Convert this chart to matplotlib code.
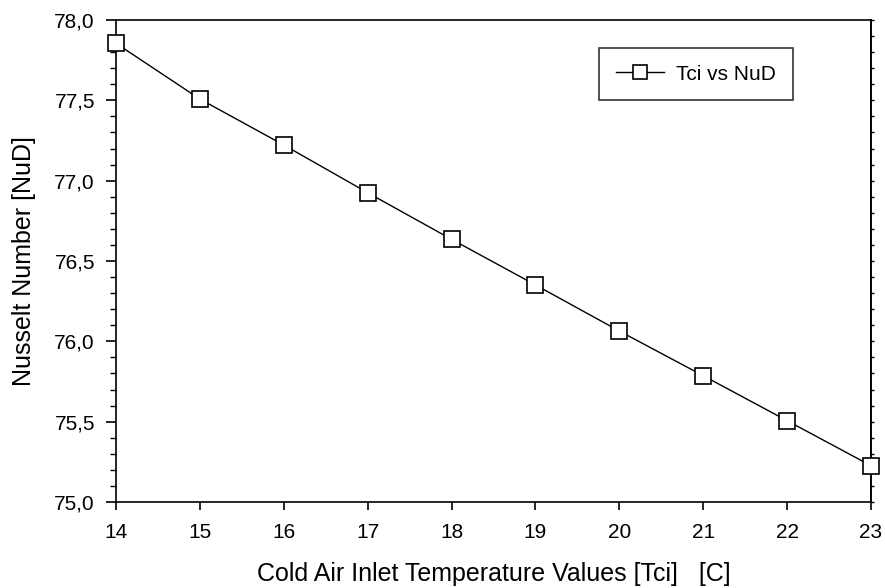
import matplotlib
matplotlib.use("Agg")
import matplotlib.pyplot as plt
from matplotlib.ticker import MultipleLocator, FuncFormatter, NullLocator

plt.rcParams['font.family'] = ['Liberation Sans', 'DejaVu Sans']

tci = [14, 15, 16, 17, 18, 19, 20, 21, 22, 23]
nud = [77.855, 77.508, 77.222, 76.925, 76.635, 76.351, 76.064, 75.786, 75.506, 75.226]
series_label = "Tci vs NuD"
xlabel = "Cold Air Inlet Temperature Values [Tci]   [C]"
ylabel = "Nusselt Number [NuD]"

fig = plt.figure(figsize=(8.85, 5.88), dpi=100)
ax = fig.add_axes([116/885, 1-502/588, (871-116)/885, (502-20)/588])

ax.plot(tci, nud, color='black', linewidth=1.0, marker='s', markersize=11.5,
        markerfacecolor='white', markeredgecolor='black', markeredgewidth=1.2,
        label=series_label, clip_on=False, zorder=5)

ax.set_xlim(14, 23)
ax.set_ylim(75.0, 78.0)
ax.xaxis.set_major_locator(MultipleLocator(1))
ax.yaxis.set_major_locator(MultipleLocator(0.5))
ax.yaxis.set_minor_locator(MultipleLocator(0.1))
ax.yaxis.set_major_formatter(FuncFormatter(lambda v, p: f"{v:.1f}".replace('.', ',')))

ax.tick_params(axis='x', which='major', direction='out', length=6, width=1.2,
               labelsize=15, pad=9)
ax.tick_params(axis='y', which='major', direction='out', length=7.2, width=1.2,
               labelsize=15, pad=8)
ax.tick_params(axis='y', which='minor', direction='out', length=4.3, width=1.0)
for s in ax.spines.values():
    s.set_linewidth(1.2)

# right side short minor ticks
sec = ax.secondary_yaxis('right')
sec.yaxis.set_major_locator(NullLocator())
sec.yaxis.set_minor_locator(MultipleLocator(0.1))
sec.tick_params(axis='y', which='minor', direction='out', length=1.8, width=1.0)
sec.spines['right'].set_linewidth(1.2)

ax.set_xlabel(xlabel, fontsize=18)
ax.set_ylabel(ylabel, fontsize=18)
ax.xaxis.set_label_coords(0.5, -0.15)
ax.xaxis.label.set_verticalalignment('center')
ax.yaxis.set_label_coords(-0.122, 0.5)
ax.yaxis.label.set_verticalalignment('center')

leg = ax.legend(loc='upper right', bbox_to_anchor=(793/885, 1 - 48/588),
                bbox_transform=fig.transFigure, fontsize=15, frameon=True, fancybox=False,
                edgecolor='black', borderpad=0.8, handlelength=2.3, handletextpad=0.6,
                markerscale=0.9, borderaxespad=0)
leg.get_frame().set_linewidth(1.2)

fig.savefig("out.png", dpi=100)
